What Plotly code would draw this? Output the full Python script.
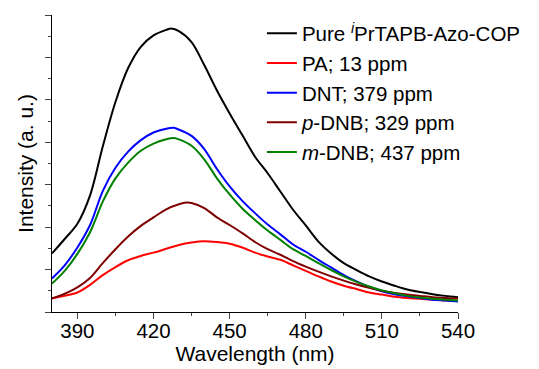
import plotly.graph_objects as go

wl_pure = [380, 385, 390, 395, 400, 405, 410, 415, 420, 425, 427, 430, 435, 440, 445, 450, 455, 460, 465, 470,
           475, 480, 485, 490, 495, 500, 505, 510, 515, 520, 525, 530, 535, 540]
int_pure = [1.38, 1.72, 2.08, 2.75, 3.9, 4.95, 5.75, 6.25, 6.52, 6.65, 6.68, 6.62, 6.36, 5.82, 5.22, 4.68, 4.17, 3.66,
            3.27, 2.84, 2.41, 2.04, 1.66, 1.38, 1.15, 0.99, 0.84, 0.72, 0.62, 0.53, 0.47, 0.42, 0.38, 0.35]

wl_pa = [380, 385, 390, 395, 400, 405, 410, 415, 420, 425, 430, 435, 440, 445, 450, 455, 460, 465, 470,
         475, 480, 485, 490, 495, 500, 505, 510, 515, 520, 525, 530, 535, 540]
int_pa = [0.32, 0.38, 0.46, 0.64, 0.87, 1.06, 1.22, 1.32, 1.4, 1.49, 1.58, 1.64, 1.67, 1.65, 1.61, 1.52, 1.4,
          1.31, 1.23, 1.1, 0.97, 0.84, 0.72, 0.62, 0.54, 0.46, 0.41, 0.36, 0.33, 0.31, 0.29, 0.27, 0.26]

wl_dnt = [380, 385, 390, 395, 400, 405, 410, 415, 420, 425, 428, 430, 435, 440, 445, 450, 455, 460, 465, 470,
          475, 480, 485, 490, 495, 500, 505, 510, 515, 520, 525, 530, 535, 540]
int_dnt = [0.79, 1.1, 1.52, 2.05, 2.85, 3.4, 3.78, 4.05, 4.23, 4.32, 4.34, 4.3, 4.15, 3.84, 3.37, 2.96, 2.62, 2.33,
           2.06, 1.83, 1.59, 1.42, 1.23, 1.05, 0.87, 0.72, 0.59, 0.49, 0.42, 0.37, 0.33, 0.29, 0.27, 0.25]

wl_pdnb = [380, 385, 390, 395, 400, 405, 410, 415, 420, 425, 430, 433, 435, 440, 445, 450, 455, 460, 465, 470,
           475, 480, 485, 490, 495, 500, 505, 510, 515, 520, 525, 530, 535, 540]
int_pdnb = [0.32, 0.43, 0.58, 0.8, 1.15, 1.48, 1.78, 2.03, 2.23, 2.42, 2.54, 2.58, 2.57, 2.45, 2.23, 2.05, 1.86,
            1.65, 1.48, 1.35, 1.2, 1.07, 0.95, 0.84, 0.74, 0.65, 0.57, 0.5, 0.45, 0.41, 0.38, 0.35, 0.33, 0.32]

wl_mdnb = [380, 385, 390, 395, 400, 405, 410, 415, 420, 425, 428, 430, 435, 440, 445, 450, 455, 460, 465, 470,
           475, 480, 485, 490, 495, 500, 505, 510, 515, 520, 525, 530, 535, 540]
int_mdnb = [0.67, 0.97, 1.37, 1.88, 2.6, 3.15, 3.52, 3.8, 3.97, 4.07, 4.1, 4.07, 3.92, 3.6, 3.15, 2.77, 2.44, 2.17,
            1.92, 1.7, 1.48, 1.32, 1.15, 0.99, 0.84, 0.71, 0.6, 0.51, 0.44, 0.38, 0.34, 0.31, 0.29, 0.27]

series = [
    ("Pure <sup><i>i</i></sup>PrTAPB-Azo-COP", wl_pure, int_pure, "#000000"),
    ("PA; 13 ppm", wl_pa, int_pa, "#ff0000"),
    ("DNT; 379 ppm", wl_dnt, int_dnt, "#0000ff"),
    ("<i>p</i>-DNB; 329 ppm", wl_pdnb, int_pdnb, "#800000"),
    ("<i>m</i>-DNB; 437 ppm", wl_mdnb, int_mdnb, "#008000"),
]

x_ticks = [390, 420, 450, 480, 510, 540]

FONT = "Liberation Sans, Arial, sans-serif"

fig = go.Figure()
for name, x, y, c in series:
    fig.add_trace(go.Scatter(x=x, y=y, mode="lines", name=name,
                             line=dict(color=c, width=2, shape="spline", smoothing=0.9)))

fig.update_layout(
    width=539, height=369,
    margin=dict(l=52, r=81, t=15, b=57, autoexpand=False),
    plot_bgcolor="white", paper_bgcolor="white",
    font=dict(family=FONT, size=20, color="#000000"),
    legend=dict(x=0.517, y=1.005, xanchor="left", yanchor="top",
                bgcolor="rgba(0,0,0,0)", font=dict(size=20.5),
                tracegroupgap=0, itemwidth=30),
    showlegend=True,
)
fig.update_xaxes(
    range=[380, 540], tickvals=x_ticks, ticks="outside", ticklen=6, tickwidth=1.2,
    showline=True, linecolor="black", linewidth=1.2, mirror=False, showgrid=False, zeroline=False,
    minor=dict(dtick=15, tick0=375, ticks="outside", ticklen=3, tickwidth=1.2, showgrid=False),
    title=dict(text="Wavelength (nm)", standoff=2, font=dict(size=21)),
    tickfont=dict(size=20.5), ticklabelstandoff=-6, automargin=False,
)
fig.update_yaxes(
    range=[0, 7], dtick=1, tick0=0, ticks="outside", ticklen=6, tickwidth=1.2, showticklabels=False,
    showline=True, linecolor="black", linewidth=1.2, mirror=False, showgrid=False, zeroline=False,
    minor=dict(dtick=0.5, tick0=0, ticks="outside", ticklen=3, tickwidth=1.2, showgrid=False),
    title=dict(text="Intensity (a. u.)", standoff=5, font=dict(size=21)), automargin=False,
)

fig.write_html("out.html")
